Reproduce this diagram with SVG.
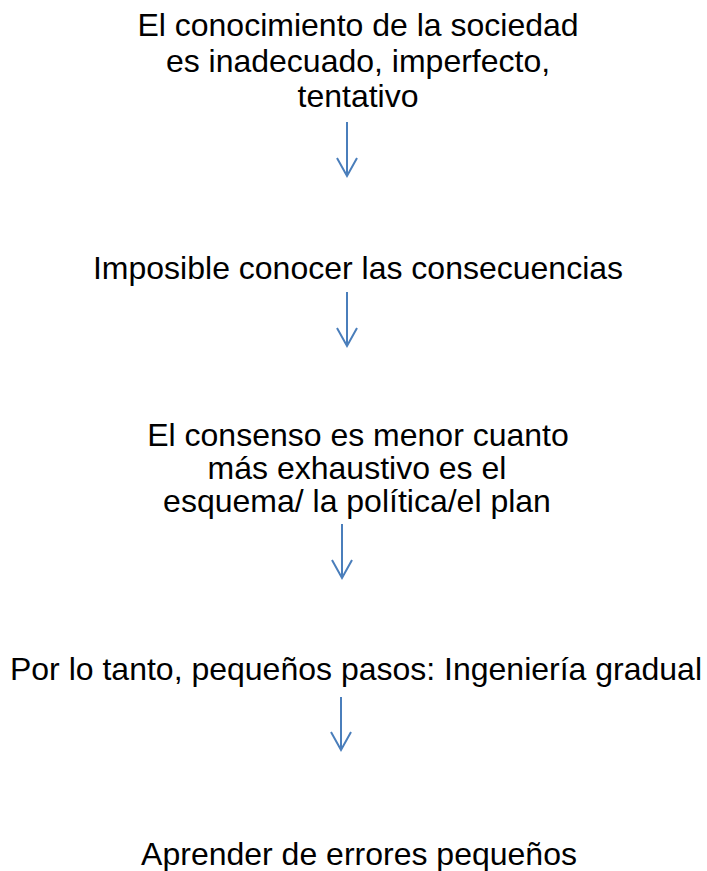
<svg xmlns="http://www.w3.org/2000/svg" width="707" height="871" viewBox="0 0 707 871">
<defs>
<style>
text{font-family:"Liberation Sans",Arial,sans-serif;font-size:32px;fill:#000;text-anchor:middle}
.arr{fill:none;stroke:#4A7EBB;stroke-width:2}
</style>
</defs>
<rect width="707" height="871" fill="#fff"/>
<g id="n1">
<text x="358" y="36">El conocimiento de la sociedad</text>
<text x="358" y="72">es inadecuado, imperfecto,</text>
<text x="358" y="107">tentativo</text>
</g>
<g id="n2"><text x="358" y="279">Imposible conocer las consecuencias</text></g>
<g id="n3">
<text x="358" y="446">El consenso es menor cuanto</text>
<text x="357" y="479">más exhaustivo es el</text>
<text x="357" y="512">esquema/ la política/el plan</text>
</g>
<g id="n4"><text x="356" y="680">Por lo tanto, pequeños pasos: Ingeniería gradual</text></g>
<g id="n5"><text x="359" y="865">Aprender de errores pequeños</text></g>
<g id="connectors">
<path class="arr" d="M347 122V176M337 158L347 176L357 158"/>
<path class="arr" d="M347 292V346M337 328L347 346L357 328"/>
<path class="arr" d="M342 524V578M332 560L342 578L352 560"/>
<path class="arr" d="M341 697V750M331 732L341 750L351 732"/>
</g>
</svg>
